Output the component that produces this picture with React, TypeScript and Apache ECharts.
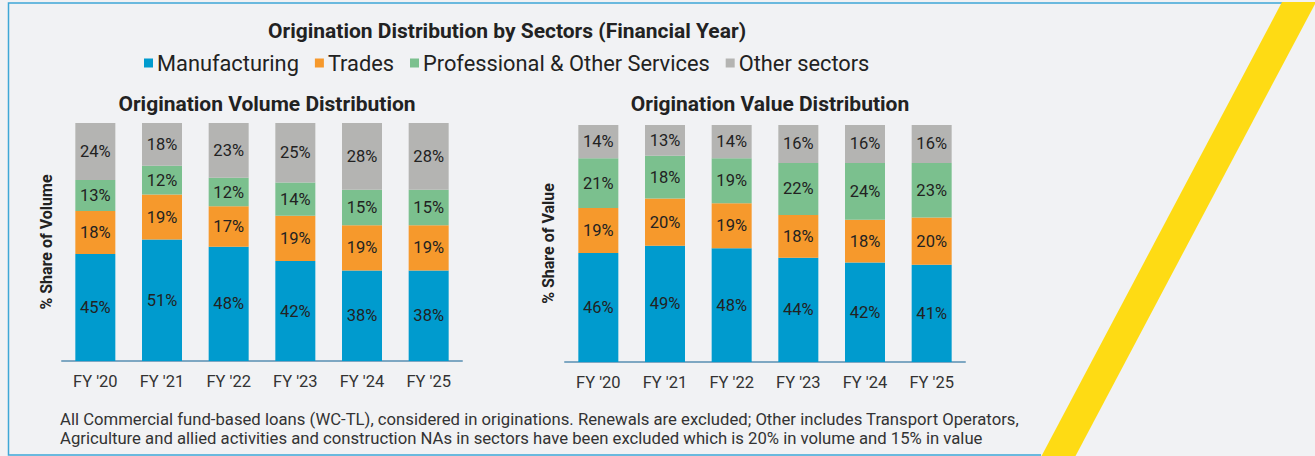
import React, { useEffect, useRef } from "react";
import * as echarts from "echarts";

const categories = ["FY '20", "FY '21", "FY '22", "FY '23", "FY '24", "FY '25"];
const seriesNames = ["Manufacturing", "Trades", "Professional & Other Services", "Other sectors"];
const colors = ["#009bce", "#f6992c", "#7bc08e", "#b4b4b2"];

const volManufacturing = [45, 51, 48, 42, 38, 38];
const volTrades = [18, 19, 17, 19, 19, 19];
const volProfessional = [13, 12, 12, 14, 15, 15];
const volOther = [24, 18, 23, 25, 28, 28];

const valManufacturing = [46, 49, 48, 44, 42, 41];
const valTrades = [19, 20, 19, 18, 18, 20];
const valProfessional = [21, 18, 19, 22, 24, 23];
const valOther = [14, 13, 14, 16, 16, 16];

const mainTitle = "Origination Distribution by Sectors (Financial Year)";
const volTitle = "Origination Volume Distribution";
const valTitle = "Origination Value Distribution";
const volAxisName = "% Share of Volume";
const valAxisName = "% Share of Value";
const footnote1 =
  "All Commercial fund-based loans (WC-TL), considered in originations. Renewals are excluded; Other includes Transport Operators,";
const footnote2 =
  "Agriculture and allied activities and construction NAs in sectors have been excluded which is 20% in volume and 15% in value";

const FONT = "Roboto, 'Noto Sans', sans-serif";

export default function App() {
  const ref = useRef<HTMLDivElement>(null);
  useEffect(() => {
    document.body.style.margin = "0";
    const chart = echarts.init(ref.current!, null, { renderer: "svg" });
    const volData = [volManufacturing, volTrades, volProfessional, volOther];
    const valData = [valManufacturing, valTrades, valProfessional, valOther];
    const mkSeries = (data: number[][], idx: number) =>
      data.map((d, i) => ({
        name: seriesNames[i],
        type: "bar",
        stack: "s" + idx,
        xAxisIndex: idx,
        yAxisIndex: idx,
        barWidth: 40,
        itemStyle: { color: colors[i] },
        label: {
          show: true,
          position: "inside",
          formatter: "{c}%",
          color: "#222",
          fontSize: 16.5,
          fontFamily: FONT,
        },
        data: d,
      }));
    const axisX = (gi: number) => ({
      type: "category",
      gridIndex: gi,
      data: categories,
      axisLine: { show: true, lineStyle: { color: "#7ea7c2", width: 2 } },
      axisTick: { show: false },
      axisLabel: { color: "#333", fontSize: 16.5, fontFamily: FONT, margin: 12 },
    });
    const axisY = (gi: number, name: string, gap: number) => ({
      type: "value",
      gridIndex: gi,
      min: 0,
      max: 100,
      name,
      nameLocation: "middle",
      nameGap: gap,
      nameRotate: 90,
      nameTextStyle: { color: "#222", fontSize: 16, fontWeight: "bold", fontFamily: FONT },
      axisLine: { show: false },
      axisTick: { show: false },
      axisLabel: { show: false },
      splitLine: { show: false },
    });
    const titleStyle = { fontSize: 21, fontWeight: "bold", color: "#222", fontFamily: FONT };
    chart.setOption({
      animation: false,
      backgroundColor: "#f1f2f4",
      textStyle: { fontFamily: FONT },
      title: [
        { text: mainTitle, left: 502, textAlign: "center", top: 15, textStyle: titleStyle },
        { text: volTitle, left: 262, textAlign: "center", top: 88, textStyle: titleStyle },
        { text: valTitle, left: 765, textAlign: "center", top: 88, textStyle: titleStyle },
      ],
      legend: {
        data: seriesNames,
        left: 139,
        top: 47,
        icon: "rect",
        itemWidth: 9,
        itemHeight: 9,
        itemGap: 16,
        textStyle: { fontSize: 21.8, color: "#222", fontFamily: FONT, padding: [0, 0, 0, -1] },
      },
      grid: [
        { left: 62, top: 123, width: 400, height: 238 },
        { left: 565, top: 125, width: 400, height: 237 },
      ],
      xAxis: [axisX(0), axisX(1)],
      yAxis: [axisY(0, volAxisName, 8), axisY(1, valAxisName, 9)],
      series: [...mkSeries(volData, 0), ...mkSeries(valData, 1)],
      graphic: [
        {
          type: "polyline",
          shape: { points: [[1282, 3], [8.5, 3], [8.5, 455], [1041, 455]] },
          style: { stroke: "#3ea7d6", lineWidth: 1.5, fill: null },
          silent: true,
        },
        {
          type: "polygon",
          shape: { points: [[1282, 2], [1316, 2], [1075, 457], [1041, 457]] },
          style: { fill: "#fedb14" },
          silent: true,
        },
        {
          type: "text",
          left: 60,
          top: 411,
          style: { text: footnote1, fontSize: 16.7, fill: "#333", fontFamily: FONT },
        },
        {
          type: "text",
          left: 60,
          top: 430,
          style: { text: footnote2, fontSize: 16.7, fill: "#333", fontFamily: FONT },
        },
      ],
    });
    return () => chart.dispose();
  }, []);
  return (
    <div
      ref={ref}
      style={{ position: "absolute", left: 0, top: 0, width: 1315, height: 456 }}
    />
  );
}
